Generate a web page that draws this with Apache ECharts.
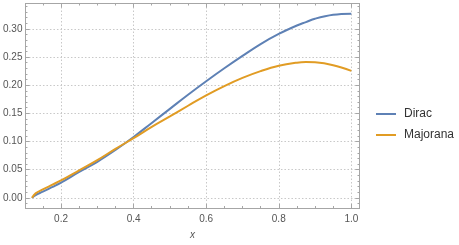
<!DOCTYPE html>
<html>
<head>
<meta charset="utf-8">
<script src="https://cdn.jsdelivr.net/npm/echarts@6/dist/echarts.min.js"></script>
<style>html,body{margin:0;padding:0;background:#fff}#c{width:459px;height:245px}</style>
</head>
<body>
<div id="c"></div>
<script>
var xValues = [0.12, 0.13, 0.15, 0.175, 0.2, 0.25, 0.3, 0.35, 0.4, 0.45, 0.5, 0.55, 0.6, 0.65, 0.7, 0.75, 0.8, 0.85, 0.875, 0.9, 0.95, 1.0];
var dirac = [0, 0.005, 0.011, 0.019, 0.027, 0.046, 0.064, 0.085, 0.108, 0.133, 0.158, 0.183, 0.207, 0.230, 0.252, 0.273, 0.291, 0.306, 0.312, 0.318, 0.325, 0.327];
var majorana = [0, 0.008, 0.015, 0.023, 0.031, 0.049, 0.067, 0.087, 0.106, 0.126, 0.1445, 0.1635, 0.182, 0.1985, 0.213, 0.225, 0.2345, 0.2400, 0.241, 0.2405, 0.2355, 0.2255];
var xMajor = [0.2, 0.4, 0.6, 0.8, 1.0];
var yMajor = [0, 0.05, 0.1, 0.15, 0.2, 0.25, 0.3];
var xMinor = [0.15, 0.25, 0.3, 0.35, 0.45, 0.5, 0.55, 0.65, 0.7, 0.75, 0.85, 0.9, 0.95];
var yMinor = [-0.01, 0.01, 0.02, 0.03, 0.04, 0.06, 0.07, 0.08, 0.09, 0.11, 0.12, 0.13, 0.14, 0.16, 0.17, 0.18, 0.19, 0.21, 0.22, 0.23, 0.24, 0.26, 0.27, 0.28, 0.29, 0.31, 0.32, 0.33, 0.34];
var seriesNames = ['Dirac', 'Majorana'];
var xLabel = 'x';

var XMIN = 0.102, XMAX = 1.0225, YMIN = -0.018, YMAX = 0.345;
var frame = '#a6a6a6';
var font = 'Liberation Sans, Arial, sans-serif';

function pairs(ys){ return xValues.map(function(x,i){ return [x, ys[i]]; }); }

function xa(pos, major, labels, extra){
  var o = {
    type:'value', position:pos, min:XMIN, max:XMAX,
    axisLine:{show:true, onZero:false, lineStyle:{color:frame, width:1}},
    axisTick:{show:true, inside:true, length: major?4:2, customValues: major?xMajor:xMinor, lineStyle:{color:frame}},
    axisLabel:{show:labels, customValues:xMajor, color:'#555', fontSize:10, fontFamily:font, margin:6,
      formatter:function(v){ return v.toFixed(1); }},
    splitLine:{show:false}
  };
  return Object.assign(o, extra||{});
}
function ya(pos, major, labels, extra){
  var o = {
    type:'value', position:pos, min:YMIN, max:YMAX,
    axisLine:{show:true, onZero:false, lineStyle:{color:frame, width:1}},
    axisTick:{show:true, inside:true, length: major?4:2, customValues: major?yMajor:yMinor, lineStyle:{color:frame}},
    axisLabel:{show:labels, customValues:yMajor, color:'#555', fontSize:10, fontFamily:font, margin:3,
      formatter:function(v){ return v.toFixed(2); }},
    splitLine:{show:false}
  };
  return Object.assign(o, extra||{});
}

var chart = echarts.init(document.getElementById('c'), null, {renderer:'canvas'});
chart.setOption({
  animation:false,
  grid:{left:20.5, right:99.5, top:3.5, bottom:32, containLabel:false},
  xAxis:[
    xa('bottom', true, true, {name:xLabel, nameLocation:'middle', nameGap:22,
      nameTextStyle:{fontStyle:'italic', color:'#555', fontSize:10, fontFamily:font},
      splitLine:{show:true, customValues:xMajor, lineStyle:{color:'#c8c8c8', type:[1.5,2], width:1}}}),
    xa('bottom', false, false),
    xa('top', true, false),
    xa('top', false, false)
  ],
  yAxis:[
    ya('left', true, true, {splitLine:{show:true, customValues:yMajor, lineStyle:{color:'#c8c8c8', type:[1.5,2], width:1}}}),
    ya('left', false, false),
    ya('right', true, false),
    ya('right', false, false)
  ],
  legend:{
    orient:'vertical', left:371, top:103, itemWidth:20, itemHeight:14, itemGap:9,
    textStyle:{fontSize:12, color:'#333', fontFamily:font, padding:[0,0,0,3]},
    data:seriesNames.map(function(n){ return {name:n, icon:'path://M0,6 L20,6 L20,8 L0,8 Z'}; })
  },
  series:[
    {name:seriesNames[0], type:'line', data:pairs(dirac), smooth:0.4, symbol:'none',
      lineStyle:{color:'#5e81b5', width:2}, itemStyle:{color:'#5e81b5'}},
    {name:seriesNames[1], type:'line', data:pairs(majorana), smooth:0.4, symbol:'none',
      lineStyle:{color:'#e19c24', width:2}, itemStyle:{color:'#e19c24'}}
  ]
});
</script>
</body>
</html>
